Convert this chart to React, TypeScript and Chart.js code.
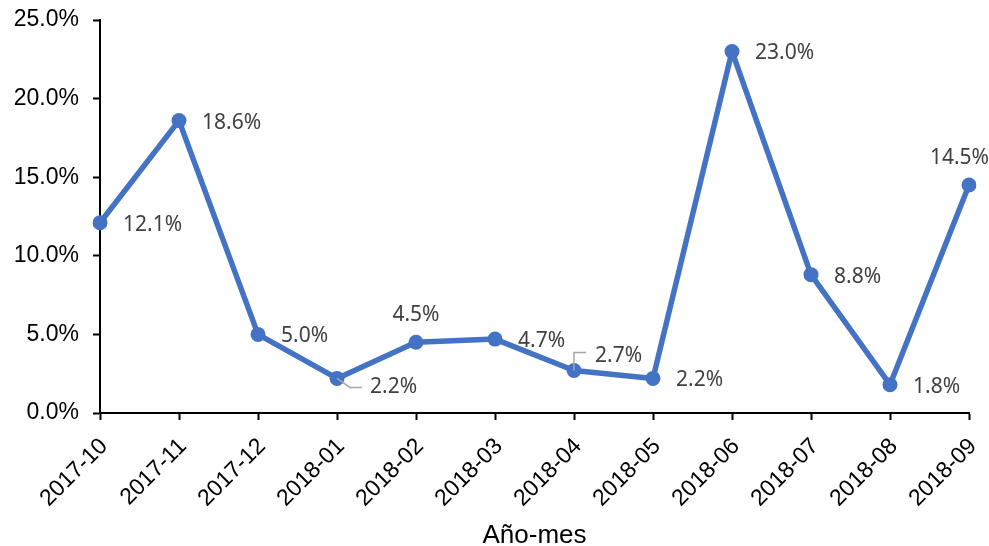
import React, { useEffect, useRef } from 'react';
import { Chart, registerables } from 'chart.js';

Chart.register(...registerables);

const categories = ['2017-10', '2017-11', '2017-12', '2018-01', '2018-02', '2018-03', '2018-04', '2018-05', '2018-06', '2018-07', '2018-08', '2018-09'];
const values = [12.1, 18.6, 5.0, 2.2, 4.5, 4.7, 2.7, 2.2, 23.0, 8.8, 1.8, 14.5];
const yMin = 0;
const yMax = 25;
const yStep = 5;
const xTitle = 'Año-mes';
const labelPlacement = ['right', 'right', 'right', 'leaderBelow', 'above', 'right', 'leaderAbove', 'right', 'right', 'right', 'right', 'above'];

const labelPlugin = {
  id: 'pointValueLabels',
  afterDatasetsDraw(chart: any) {
    const ctx = chart.ctx;
    const meta = chart.getDatasetMeta(0);
    ctx.save();
    ctx.font = '21px "Noto Sans"';
    ctx.fillStyle = '#404040';
    ctx.textBaseline = 'middle';
    ctx.textAlign = 'left';
    ctx.strokeStyle = '#a6a6a6';
    ctx.lineWidth = 1.5;
    meta.data.forEach((pt: any, i: number) => {
      const text = values[i].toFixed(1) + '%';
      const w = ctx.measureText(text).width;
      const place = labelPlacement[i];
      let x = 0;
      let y = 0;
      if (place === 'right') {
        x = pt.x + 23;
        y = pt.y + 2;
      } else if (place === 'above') {
        x = pt.x - w / 2;
        y = pt.y - 27;
      } else if (place === 'leaderBelow') {
        ctx.beginPath();
        ctx.moveTo(pt.x, pt.y);
        ctx.lineTo(pt.x + 13, pt.y + 9);
        ctx.lineTo(pt.x + 25, pt.y + 9);
        ctx.stroke();
        x = pt.x + 33;
        y = pt.y + 9;
      } else {
        ctx.beginPath();
        ctx.moveTo(pt.x, pt.y);
        ctx.lineTo(pt.x, pt.y - 18);
        ctx.lineTo(pt.x + 12, pt.y - 18);
        ctx.stroke();
        x = pt.x + 21;
        y = pt.y - 15;
      }
      x = Math.min(x, chart.width - w);
      ctx.fillText(text, x, y);
    });
    ctx.restore();
  },
};

const zeroPad = (scale: any) => {
  scale.paddingTop = 0;
  scale.paddingBottom = 0;
  scale.paddingLeft = 0;
  scale.paddingRight = 0;
};

export default function App() {
  const ref = useRef<HTMLCanvasElement>(null);
  useEffect(() => {
    if (!ref.current) return;
    const chart = new Chart(ref.current, {
      type: 'line',
      data: {
        labels: categories,
        datasets: [
          {
            data: values,
            borderColor: '#4472C4',
            backgroundColor: '#4472C4',
            borderWidth: 5.5,
            borderJoinStyle: 'round',
            borderCapStyle: 'round',
            pointRadius: 7.5,
            pointHoverRadius: 7.5,
            pointBorderWidth: 0,
            tension: 0,
          },
        ],
      },
      options: {
        animation: false,
        responsive: true,
        maintainAspectRatio: false,
        layout: { padding: { top: 20, right: 20, left: 0, bottom: 0 } },
        plugins: { legend: { display: false }, tooltip: { enabled: false } },
        scales: {
          x: {
            offset: false,
            grid: { drawOnChartArea: false, drawTicks: true, tickLength: 7, tickColor: '#000', tickWidth: 2 },
            border: { display: true, color: '#000', width: 2 },
            ticks: {
              color: '#000',
              font: { family: '"Liberation Sans", Arial', size: 23 },
              maxRotation: 45,
              minRotation: 45,
              padding: 13,
              labelOffset: 4,
              autoSkip: false,
            },
            title: {
              display: true,
              text: xTitle,
              color: '#000',
              font: { family: '"Liberation Sans", Arial', size: 26 },
              padding: { top: 0, bottom: -5 },
            },
            afterFit(scale: any) {
              scale.height = 133;
              zeroPad(scale);
            },
          },
          y: {
            min: yMin,
            max: yMax,
            grid: { drawOnChartArea: false, drawTicks: true, tickLength: 7, tickColor: '#000', tickWidth: 2 },
            border: { display: true, color: '#000', width: 2 },
            ticks: {
              stepSize: yStep,
              color: '#000',
              font: { family: '"Liberation Sans", Arial', size: 23 },
              padding: 14,
              callback: (v: any) => Number(v).toFixed(1) + '%',
            },
            afterFit(scale: any) {
              scale.width = 100;
              zeroPad(scale);
            },
          },
        },
      },
      plugins: [labelPlugin],
    });
    return () => chart.destroy();
  }, []);
  return (
    <div style={{ position: 'fixed', left: 0, top: 0, width: 989, height: 546, background: '#fff' }}>
      <canvas ref={ref} />
    </div>
  );
}
